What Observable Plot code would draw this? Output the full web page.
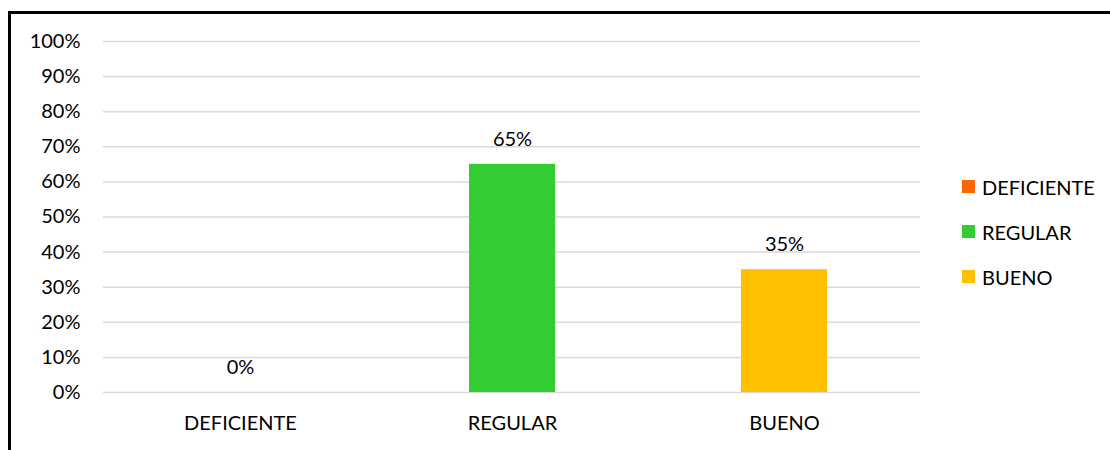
<!DOCTYPE html>
<html>
<head>
<meta charset="utf-8">
<script src="https://cdn.jsdelivr.net/npm/d3@7"></script>
<script src="https://cdn.jsdelivr.net/npm/@observablehq/plot@0.6"></script>
<style>
  html, body { margin: 0; padding: 0; background: #fff; }
  #wrap { position: relative; width: 1110px; height: 450px; overflow: hidden; font-family: Lato, "Open Sans", sans-serif; }
  #frame { position: absolute; left: 8px; top: 11px; width: 1200px; height: 500px; border-left: 3px solid #000; border-top: 3px solid #000; }
  #chart { position: absolute; left: 0; top: 0; }
  #legend { position: absolute; left: 962px; top: 164px; font-size: 20px; color: #000; }
  .item { display: flex; align-items: center; height: 45px; margin-top: 0; }
  .sw { width: 13px; height: 13px; margin-right: 7px; }
</style>
</head>
<body>
<div id="wrap">
  <div id="frame"></div>
  <div id="chart"></div>
  <div id="legend"></div>
</div>
<script>
const categories = ["DEFICIENTE", "REGULAR", "BUENO"];
const values = [0, 0.65, 0.35];
const colors = ["#FF6600", "#33CC33", "#FFC000"];
const yTicks = [0, 0.1, 0.2, 0.3, 0.4, 0.5, 0.6, 0.7, 0.8, 0.9, 1.0];

const data = categories.map((c, i) => ({cat: c, value: values[i]}));

const chart = Plot.plot({
  width: 1110,
  height: 450,
  marginLeft: 103,
  marginRight: 190,
  marginTop: 41,
  marginBottom: 58,
  style: {fontFamily: "Lato, 'Open Sans', sans-serif", fontSize: "20px", color: "#000", background: "transparent"},
  x: {domain: categories, paddingInner: 0.684, paddingOuter: 0.342, label: null, tickSize: 0, tickPadding: 23},
  y: {domain: [0, 1], ticks: yTicks, tickFormat: d3.format(".0%"), label: null, tickSize: 0, tickPadding: 23},
  color: {domain: categories, range: colors},
  marks: [
    Plot.gridY(yTicks, {stroke: "#d9d9d9", strokeOpacity: 1, strokeWidth: 1.5}),
    Plot.barY(data, {x: "cat", y: "value", fill: "cat"}),
    Plot.text(data, {x: "cat", y: "value", text: d => d3.format(".0%")(d.value), dy: -25, fontSize: 20, fill: "#000"})
  ]
});
document.getElementById("chart").appendChild(chart);

const legend = document.getElementById("legend");
categories.forEach((c, i) => {
  const item = document.createElement("div");
  item.className = "item";
  const sw = document.createElement("div");
  sw.className = "sw";
  sw.style.background = colors[i];
  const t = document.createElement("span");
  t.textContent = c;
  item.appendChild(sw);
  item.appendChild(t);
  legend.appendChild(item);
});
</script>
</body>
</html>
